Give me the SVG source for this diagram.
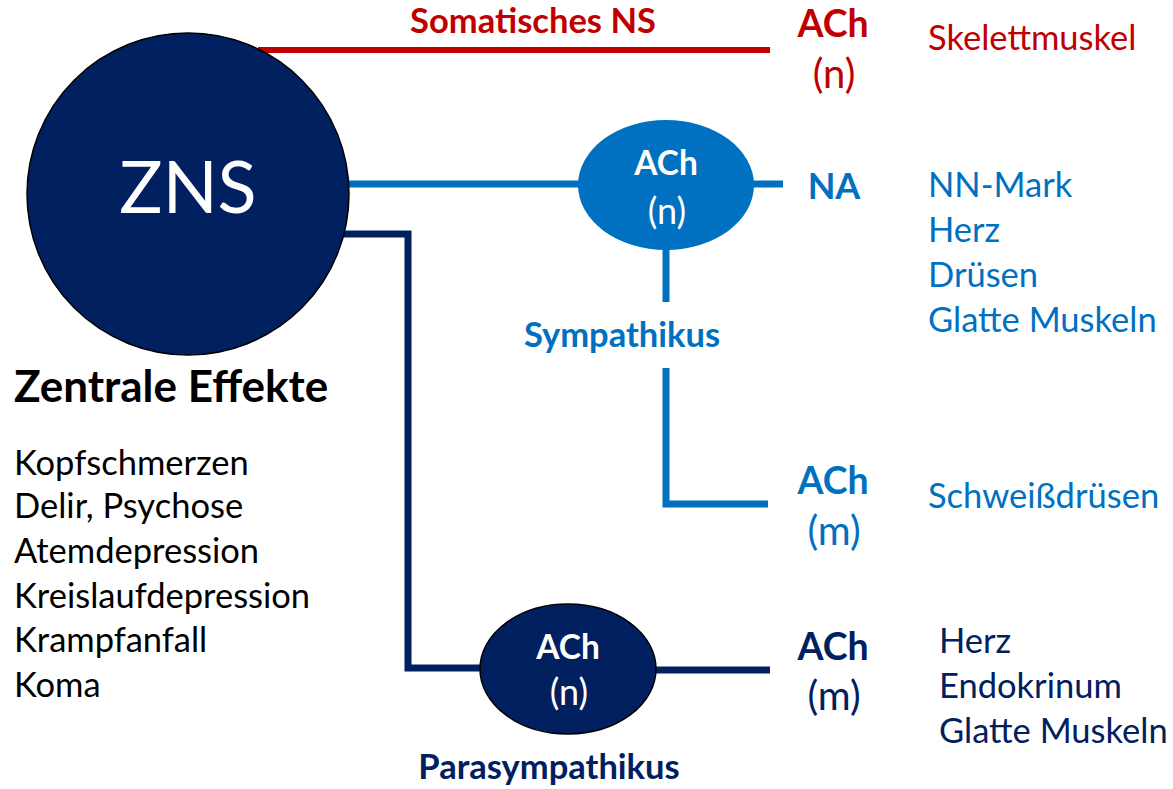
<svg xmlns="http://www.w3.org/2000/svg" width="1173" height="789" viewBox="0 0 1173 789">
<style>
text{font-family:Lato,"Open Sans","Liberation Sans",sans-serif}
.b{font-weight:bold}
.red{fill:#C00000}
.blue{fill:#0070C0}
.navy{fill:#002060}
.blk{fill:#000}
.w{fill:#fff}
.mid{text-anchor:middle}
.f30{font-size:34.5px}
.ach{font-size:37.5px;font-weight:bold}
.par{font-size:40px}
.gach{font-size:33.5px;font-weight:bold}
.gpar{font-size:36px}
.lbl{font-size:34.5px;font-weight:bold}
.ln{fill:none;stroke-linecap:butt;stroke-linejoin:miter}
</style>
<rect width="1173" height="789" fill="#fff"/>
<g id="connectors">
<line class="ln" x1="258" y1="50" x2="770" y2="50" stroke="#C00000" stroke-width="6"/>
<line class="ln" x1="345" y1="184" x2="580" y2="184" stroke="#0070C0" stroke-width="7"/>
<line class="ln" x1="752" y1="184" x2="783" y2="184" stroke="#0070C0" stroke-width="7"/>
<line class="ln" x1="666" y1="248" x2="666" y2="302" stroke="#0070C0" stroke-width="7"/>
<polyline class="ln" points="666,368 666,504 768,504" stroke="#0070C0" stroke-width="7"/>
<polyline class="ln" points="340,234 408,234 408,668 482,668" stroke="#002060" stroke-width="7"/>
<line class="ln" x1="654" y1="670" x2="770" y2="670" stroke="#002060" stroke-width="7"/>
</g>
<g id="zns">
<ellipse cx="188" cy="194" rx="161" ry="161" fill="#002060" stroke="#000" stroke-width="1.5"/>
<text x="188" y="213" class="w mid" font-size="72">ZNS</text>
</g>
<g id="somatic">
<text x="533" y="33" class="red mid lbl">Somatisches NS</text>
<text x="833" y="37" class="red mid ach">ACh</text>
<text x="834" y="88" class="red mid par">(n)</text>
<text x="928" y="50" class="red f30">Skelettmuskel</text>
</g>
<g id="sympathikus-ganglion">
<ellipse cx="666" cy="185" rx="88" ry="65" fill="#0070C0"/>
<text x="666" y="175" class="w mid gach">ACh</text>
<text x="667" y="224" class="w mid gpar">(n)</text>
</g>
<g id="sympathikus-na">
<text x="834" y="199" class="blue b mid" font-size="36">NA</text>
<text x="928" y="197" class="blue f30">NN-Mark</text>
<text x="928" y="242" class="blue f30">Herz</text>
<text x="928" y="287" class="blue f30">Drüsen</text>
<text x="928" y="332" class="blue f30">Glatte Muskeln</text>
</g>
<g id="sympathikus-label">
<text x="622" y="347" class="blue mid lbl">Sympathikus</text>
</g>
<g id="sympathikus-ach">
<text x="833" y="494" class="blue mid ach">ACh</text>
<text x="834" y="545" class="blue mid par">(m)</text>
<text x="928" y="508" class="blue f30">Schweißdrüsen</text>
</g>
<g id="parasympathikus-ganglion">
<ellipse cx="568" cy="669" rx="88" ry="65" fill="#002060" stroke="#000" stroke-width="1.5"/>
<text x="568" y="659" class="w mid gach">ACh</text>
<text x="569" y="705" class="w mid gpar">(n)</text>
<text x="549" y="779" class="navy mid lbl">Parasympathikus</text>
</g>
<g id="parasympathikus-ach">
<text x="833" y="660" class="navy mid ach">ACh</text>
<text x="834" y="710" class="navy mid par">(m)</text>
<text x="939" y="653" class="navy f30">Herz</text>
<text x="939" y="698" class="navy f30">Endokrinum</text>
<text x="939" y="743" class="navy f30">Glatte Muskeln</text>
</g>
<g id="zentrale-effekte">
<text x="14" y="402" class="blk b" font-size="44">Zentrale Effekte</text>
<text x="14" y="475" class="blk f30">Kopfschmerzen</text>
<text x="14" y="518" class="blk f30">Delir, Psychose</text>
<text x="14" y="563" class="blk f30">Atemdepression</text>
<text x="14" y="608" class="blk f30">Kreislaufdepression</text>
<text x="14" y="652" class="blk f30">Krampfanfall</text>
<text x="14" y="697" class="blk f30">Koma</text>
</g>
</svg>
